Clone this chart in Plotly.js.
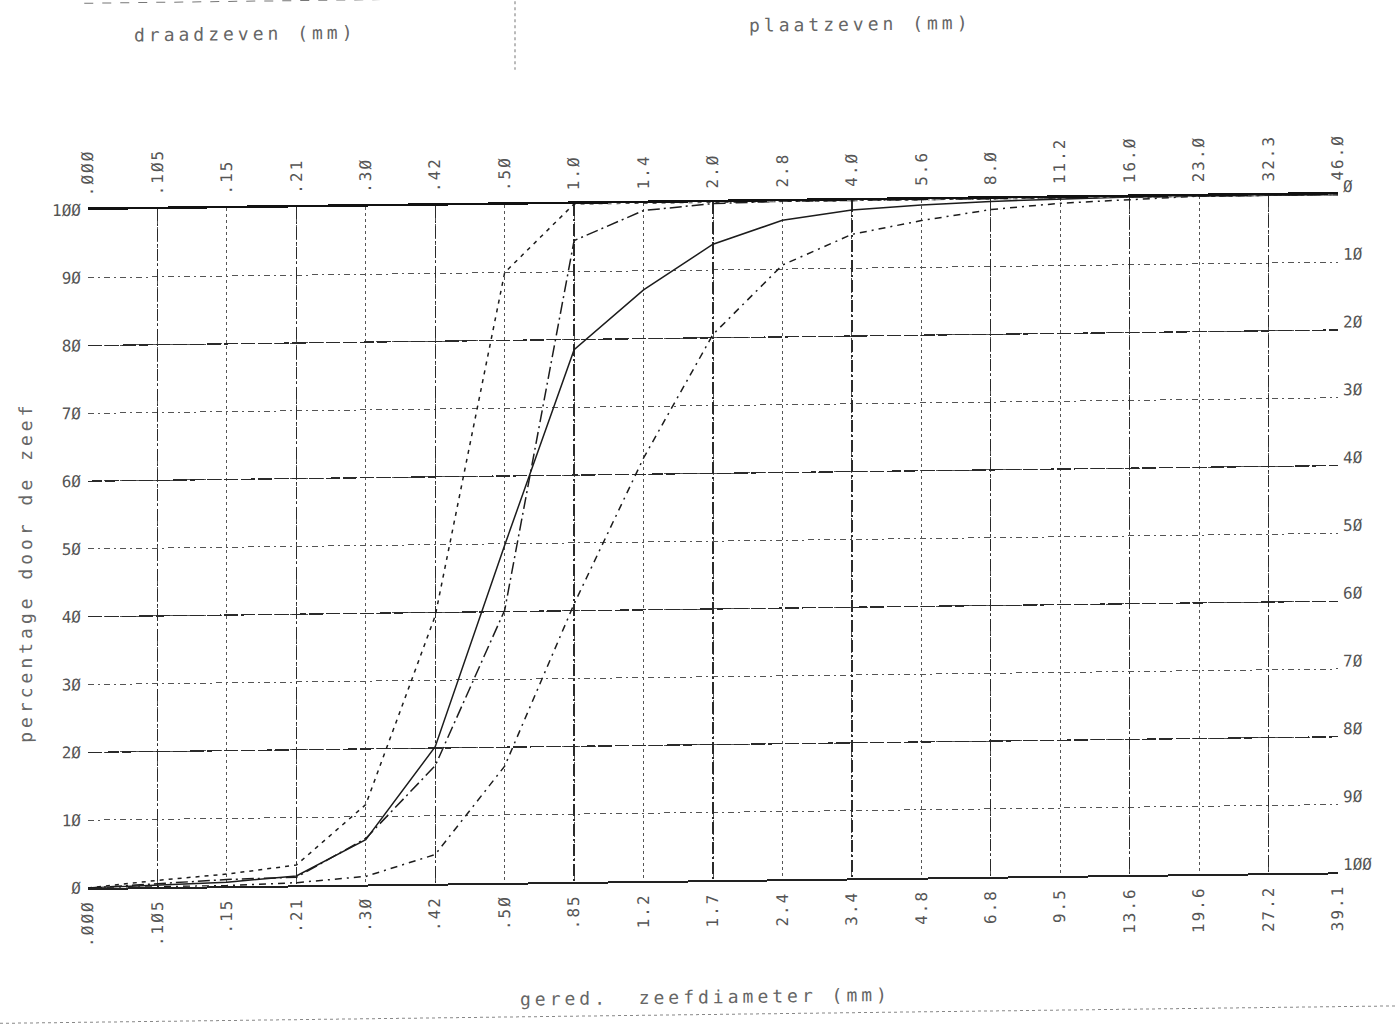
<!DOCTYPE html>
<html><head><meta charset="utf-8">
<script src="https://cdn.plot.ly/plotly-3.0.1.min.js"></script>
<style>
html,body{margin:0;padding:0;background:#fff;overflow:hidden}
#chart{width:1395px;height:1025px;transform:skewY(-0.716deg);transform-origin:88px 0}
.annotation-text{letter-spacing:4px}
.xtick text,.x2tick text{letter-spacing:2px}
</style></head><body><div id="chart"></div>
<script>
// reduced sieve diameter (bottom axis) and sieve size (top axis), mm
const bottomLabels = [".ØØØ",".1Ø5",".15",".21",".3Ø",".42",".5Ø",".85","1.2","1.7","2.4","3.4","4.8","6.8","9.5","13.6","19.6","27.2","39.1"];
const topLabels = [".ØØØ",".1Ø5",".15",".21",".3Ø",".42",".5Ø","1.Ø","1.4","2.Ø","2.8","4.Ø","5.6","8.Ø","11.2","16.Ø","23.Ø","32.3","46.Ø"];
// percentage passing (left) / retained (right)
const pctValues = [0,10,20,30,40,50,60,70,80,90,100];
const pctLabels = ["Ø","1Ø","2Ø","3Ø","4Ø","5Ø","6Ø","7Ø","8Ø","9Ø","1ØØ"];
const majorPct = [0,20,40,60,80,100];
// grading curves (percentage passing)
const sampleA = [0,1.0,1.8,3.0,11.8,39.5,90.0,100,100,100,100,100,100,100,100,100,100,100,100];
const sampleB = [0,0.3,0.6,1.4,6.6,20.2,49.8,78.5,87.2,93.8,97.2,98.6,99.2,99.6,99.8,100,100,100,100];
const sampleC = [0,0.5,1.0,1.2,6.8,17.4,40.2,94.6,98.9,99.8,100,100,100,100,100,100,100,100,100];
const sampleD = [0,0,0.1,0.4,1.2,4.3,17.2,41.0,62.4,80.5,90.6,95.0,96.9,98.4,99.2,99.6,100,100,100];

const ink = '#1c1c1c';
const txt = '#555';
const mono = 'DejaVu Sans Mono';
const nulls = bottomLabels.map(() => null);
const majorIdx = bottomLabels.map((_, i) => i).filter(i => i % 2 === 1);

const curves = [
  {name: 'monster 1', y: sampleA, dash: '4px,5px'},
  {name: 'monster 2', y: sampleB, dash: 'solid'},
  {name: 'monster 3', y: sampleC, dash: '12px,4px,2px,4px'},
  {name: 'monster 4', y: sampleD, dash: '7px,5px,2px,5px'}
];
const traces = curves.map(c => ({
  type: 'scatter', mode: 'lines', name: c.name, x: bottomLabels, y: c.y,
  xaxis: 'x', yaxis: 'y', line: {color: ink, width: 1.5, dash: c.dash}, showlegend: false
}));
// axis carriers (no visible marks)
traces.push({type:'scatter', mode:'lines', x: topLabels, y: nulls, xaxis:'x2', yaxis:'y', hoverinfo:'skip', showlegend:false});
traces.push({type:'scatter', mode:'lines', x: majorIdx, y: majorIdx.map(()=>null), xaxis:'x3', yaxis:'y', hoverinfo:'skip', showlegend:false});
traces.push({type:'scatter', mode:'lines', x: bottomLabels, y: nulls, xaxis:'x', yaxis:'y2', hoverinfo:'skip', showlegend:false});
traces.push({type:'scatter', mode:'lines', x: bottomLabels, y: nulls, xaxis:'x', yaxis:'y3', hoverinfo:'skip', showlegend:false});

const tickFont = {family: mono, size: 16, color: txt};
const titleFont = {family: mono, size: 18, color: '#666'};

const layout = {
  width: 1395, height: 1025,
  margin: {l: 88, r: 57, t: 210, b: 137},
  paper_bgcolor: '#ffffff', plot_bgcolor: '#ffffff',
  showlegend: false,
  xaxis: {type:'category', range:[0,18], showline:true, linecolor:'#222', linewidth:2,
    showgrid:true, gridcolor:'#555', griddash:'dot', gridwidth:1, ticks:'', tickangle:-90,
    tickfont: tickFont, ticklabelstandoff: 4, zeroline:false},
  xaxis2: {type:'category', overlaying:'x', side:'top', range:[0,18], showline:true, linecolor:'#111',
    linewidth:2.5, showgrid:false, ticks:'', tickangle:-90, tickfont: tickFont, ticklabelstandoff: 8, zeroline:false},
  xaxis3: {type:'linear', overlaying:'x', range:[0,18], tickvals: majorIdx, showticklabels:false,
    showgrid:true, gridcolor:'#2a2a2a', griddash:'12px,3px,2px,3px', gridwidth:1.3, ticks:'', showline:false, zeroline:false},
  yaxis: {range:[0,100], tickvals: pctValues, ticktext: pctLabels, showgrid:true, gridcolor:'#555',
    griddash:'6px,4px,2px,4px', gridwidth:1, ticks:'', showline:false, zeroline:false, tickfont: tickFont, ticklabelstandoff: 6},
  yaxis2: {overlaying:'y', side:'right', range:[100,0], tickvals: pctValues, ticktext: pctLabels,
    showgrid:false, ticks:'', showline:false, zeroline:false, tickfont: tickFont, ticklabelstandoff: 4, ticklabelshift: 8},
  yaxis3: {overlaying:'y', range:[0,100], tickvals: majorPct, showticklabels:false, showgrid:true,
    gridcolor:'#2a2a2a', griddash:'14px,3px', gridwidth:1.3, ticks:'', showline:false, zeroline:false},
  annotations: [
    {text:'draadzeven (mm)', xref:'paper', yref:'paper', x:0.1256, y:1.258, showarrow:false, font: titleFont, xanchor:'center', yanchor:'middle'},
    {text:'plaatzeven (mm)', xref:'paper', yref:'paper', x:0.6176, y:1.26, showarrow:false, font: titleFont, xanchor:'center', yanchor:'middle'},
    {text:'gered.  zeefdiameter (mm)', xref:'paper', yref:'paper', x:0.4936, y:-0.1723, showarrow:false, font: titleFont, xanchor:'center', yanchor:'middle'},
    {text:'percentage door de zeef', xref:'paper', yref:'paper', x:-0.0504, y:0.466, textangle:-90, showarrow:false, font: titleFont, xanchor:'center', yanchor:'middle'}
  ],
  shapes: [
    {type:'line', xref:'paper', yref:'paper', x0:-0.003, x1:0.3416, y0:1.305, y1:1.305, line:{color:'#777', width:1, dash:'dash'}},
    {type:'line', xref:'paper', yref:'paper', x0:0.3416, x1:0.3416, y0:1.309, y1:1.199, line:{color:'#777', width:1, dash:'dot'}},
    {type:'line', xref:'paper', yref:'paper', x0:-0.0704, x1:1.0456, y0:-0.198, y1:-0.198, line:{color:'#888', width:1, dash:'dot'}}
  ]
};
Plotly.newPlot('chart', traces, layout, {staticPlot: true, displayModeBar: false});
</script></body></html>
